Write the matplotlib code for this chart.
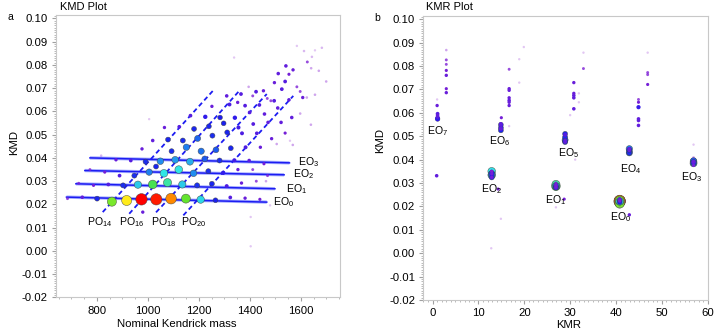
import numpy as np
import matplotlib
matplotlib.use("Agg")
import matplotlib.pyplot as plt
from matplotlib.colors import LinearSegmentedColormap
from matplotlib.ticker import MultipleLocator, FormatStrFormatter

plt.rcParams['font.family'] = ['Liberation Sans', 'DejaVu Sans']
plt.rcParams['mathtext.default'] = 'regular'

# ---- EO rows (nominal Kendrick mass, KMD, relative intensity) ----
eo0_mass = [685, 743, 801, 859, 917, 975, 1033, 1091, 1149, 1207, 1265, 1323, 1381, 1439, 1479]
eo0_kmd = [0.0225, 0.0231, 0.0225, 0.0212, 0.0217, 0.0222, 0.0222, 0.0225, 0.0225, 0.0221, 0.0218, 0.0230, 0.0227, 0.0222, 0.0196]
eo0_int = [0.02, 0.05, 0.14, 0.62, 0.76, 1.0, 0.97, 0.86, 0.6, 0.4, 0.13, 0.06, 0.04, 0.03, 0.005]

eo1_mass = [729, 787, 845, 903, 961, 1019, 1077, 1135, 1193, 1251, 1309, 1367, 1425]
eo1_kmd = [0.0291, 0.0282, 0.0286, 0.0282, 0.0285, 0.0286, 0.0294, 0.0286, 0.0282, 0.0289, 0.0279, 0.0292, 0.0300]
eo1_int = [0.02, 0.03, 0.06, 0.15, 0.38, 0.55, 0.48, 0.38, 0.16, 0.14, 0.07, 0.04, 0.02]

eo2_mass = [773, 831, 889, 947, 1005, 1063, 1121, 1179, 1237, 1295, 1353, 1411, 1469]
eo2_kmd = [0.0350, 0.0339, 0.0324, 0.0324, 0.0339, 0.0334, 0.0350, 0.0334, 0.0343, 0.0336, 0.0350, 0.0350, 0.0324]
eo2_int = [0.02, 0.03, 0.06, 0.15, 0.28, 0.42, 0.42, 0.3, 0.15, 0.1, 0.04, 0.02, 0.02]

eo3_mass = [817, 875, 933, 991, 1049, 1107, 1165, 1223, 1281, 1339, 1397, 1455]
eo3_kmd = [0.0410, 0.0392, 0.0389, 0.0384, 0.0386, 0.0392, 0.0384, 0.0396, 0.0389, 0.0390, 0.0389, 0.0375]
eo3_int = [0.008, 0.04, 0.06, 0.15, 0.3, 0.32, 0.34, 0.22, 0.15, 0.08, 0.05, 0.03]

eo4_mass = [977, 1093, 1151, 1209, 1267, 1325, 1383, 1441]
eo4_kmd = [0.0439, 0.0429, 0.0446, 0.0429, 0.0435, 0.0442, 0.0446, 0.0446]
eo4_int = [0.04, 0.15, 0.28, 0.26, 0.22, 0.14, 0.07, 0.04]

eo5_mass = [1019, 1079, 1137, 1195, 1253, 1311, 1369, 1427, 1485]
eo5_kmd = [0.0475, 0.0479, 0.0475, 0.0484, 0.0496, 0.0510, 0.0506, 0.0506, 0.0483]
eo5_int = [0.05, 0.14, 0.15, 0.24, 0.15, 0.14, 0.07, 0.06, 0.04]

eo6_mass = [1065, 1123, 1181, 1239, 1297, 1355, 1413, 1471]
eo6_kmd = [0.0531, 0.0534, 0.0525, 0.0536, 0.0549, 0.0531, 0.0546, 0.0553]
eo6_int = [0.04, 0.06, 0.14, 0.14, 0.13, 0.08, 0.06, 0.05]

eo7_mass = [1167, 1225, 1283, 1341, 1399, 1457]
eo7_kmd = [0.0582, 0.0577, 0.0574, 0.0573, 0.0596, 0.0589]
eo7_int = [0.06, 0.1, 0.12, 0.1, 0.06, 0.05]

# other peaks in the mass spectrum (higher EO, side series, noise)
other_mass = [1032, 980, 1403, 1403, 1463, 1251, 1320, 1352, 1381, 1437, 1495, 1509, 1309, 1365,
              1424, 1453, 1411, 1468, 1482, 1553, 1525, 1496, 1538, 1511, 1541, 1553, 1569, 1584,
              1597, 1607, 1623, 1655, 1625, 1640, 1670, 1699, 1584, 1612, 1643, 1655, 1682, 1338,
              1005, 1564, 1522, 1538, 1597, 1639, 1568, 1505, 1395, 1557]
other_kmd = [0.0363, 0.0167, 0.0146, 0.0020, 0.0300, 0.0622, 0.0630, 0.0639, 0.0625, 0.0628, 0.0646,
             0.0615, 0.0667, 0.0675, 0.0685, 0.0689, 0.0667, 0.0656, 0.0646, 0.0650, 0.0696, 0.0724,
             0.0729, 0.0763, 0.0796, 0.0760, 0.0779, 0.0706, 0.0686, 0.0660, 0.0660, 0.0672, 0.0813,
             0.0786, 0.0775, 0.0729, 0.0882, 0.0860, 0.0835, 0.0863, 0.0874, 0.0832, 0.0567, 0.0574,
             0.0553, 0.0507, 0.0591, 0.0543, 0.0456, 0.0460, 0.0706, 0.0474]
other_int = [0.14, 0.04, 0.005, 0.005, 0.01, 0.04, 0.07, 0.04, 0.06, 0.06, 0.06, 0.05, 0.05, 0.06,
             0.06, 0.04, 0.02, 0.02, 0.02, 0.05, 0.06, 0.04, 0.06, 0.05, 0.05, 0.03, 0.04, 0.02,
             0.02, 0.04, 0.01, 0.01, 0.02, 0.01, 0.01, 0.01, 0.005, 0.008, 0.008, 0.005, 0.008, 0.005,
             0.005, 0.05, 0.05, 0.03, 0.01, 0.01, 0.01, 0.01, 0.01, 0.005]

# fitted EO lines and PO lines (end points)
eo_line_mass = [(681, 1466), (718, 1498), (753, 1534), (773, 1555)]
eo_line_kmd = [(0.02315, 0.0210), (0.02889, 0.02675), (0.03459, 0.03275), (0.04003, 0.03789)]
po_line_mass = [(823, 1255), (927, 1361), (1032, 1466), (1139, 1570)]
po_line_kmd = [(0.0167, 0.0689), (0.0160, 0.0692), (0.0166, 0.0675), (0.0153, 0.0667)]
po_names = ['PO$_{14}$', 'PO$_{16}$', 'PO$_{18}$', 'PO$_{20}$']

# KMR position of each EO series
eo_kmr = [40.8, 26.9, 12.9, 56.9, 42.9, 28.9, 14.9, 1.1]

# remaining peaks in the KMR plot
kmr_other = [3.0, 3.0, 3.0, 3.0, 3.0, 3.0, 3.0, 1.0, 1.0, 0.9,
             16.7, 16.7, 16.7, 16.7, 16.7, 16.7, 16.7, 16.7, 15.0, 18.9, 18.9, 19.9,
             14.3, 14.9, 12.8, 28.7, 26.9, 42.9,
             30.8, 30.8, 30.8, 30.8, 30.8, 32.9, 32.9, 31.9, 31.9, 30.0,
             44.9, 44.9, 44.9, 44.9, 44.9, 44.9, 46.9, 46.9, 46.9, 46.9, 56.9, 31.1]
kmd_other = [0.0868, 0.0826, 0.0807, 0.0781, 0.0760, 0.0703, 0.0686, 0.0631, 0.0657, 0.0331,
             0.0786, 0.0703, 0.0696, 0.0664, 0.0653, 0.0645, 0.0631, 0.0543, 0.0579, 0.0729, 0.0829, 0.0881,
             0.0274, 0.0147, 0.0021, 0.0231, 0.0196, 0.0164,
             0.0729, 0.0683, 0.0674, 0.0664, 0.0617, 0.0857, 0.0789, 0.0683, 0.0645, 0.0590,
             0.0657, 0.0645, 0.0624, 0.0574, 0.0567, 0.0546, 0.0857, 0.0772, 0.0763, 0.0721, 0.0464, 0.0400]
int_other = [0.01, 0.02, 0.02, 0.03, 0.04, 0.03, 0.04, 0.04, 0.005, 0.05,
             0.02, 0.04, 0.04, 0.04, 0.05, 0.04, 0.04, 0.005, 0.03, 0.005, 0.005, 0.005,
             0.03, 0.005, 0.005, 0.03, 0.005, 0.04,
             0.04, 0.04, 0.05, 0.05, 0.05, 0.005, 0.02, 0.005, 0.005, 0.005,
             0.02, 0.03, 0.09, 0.05, 0.05, 0.05, 0.005, 0.02, 0.02, 0.03, 0.005, 0.005]

rows_mass = [eo0_mass, eo1_mass, eo2_mass, eo3_mass, eo4_mass, eo5_mass, eo6_mass, eo7_mass]
rows_kmd = [eo0_kmd, eo1_kmd, eo2_kmd, eo3_kmd, eo4_kmd, eo5_kmd, eo6_kmd, eo7_kmd]
rows_int = [eo0_int, eo1_int, eo2_int, eo3_int, eo4_int, eo5_int, eo6_int, eo7_int]

cmap = LinearSegmentedColormap.from_list('intensity', [
    (0.0, '#9020d0'), (0.12, '#1a1af0'), (0.28, '#1e80f0'), (0.42, '#30e6e6'),
    (0.58, '#4ee030'), (0.74, '#ffff20'), (0.86, '#ff8c00'), (1.0, '#ff0000')])


def draw_peaks(ax, x, y, inten):
    x, y, inten = np.asarray(x, float), np.asarray(y, float), np.asarray(inten, float)
    order = np.argsort(-inten)
    x, y, inten = x[order], y[order], inten[order]
    diam = 2.0 + 9.5 * inten ** 0.6
    sizes = (diam * 0.72) ** 2
    cols = cmap(inten)
    cols[:, 3] = np.clip(inten * 40, 0.25, 1)
    edges = [(0.25, 0.25, 0.25, 0.8) if v > 0.1 else (0, 0, 0, 0) for v in inten]
    ax.scatter(x, y, s=sizes, c=cols, edgecolors=edges, linewidths=0.4, zorder=3)


def style_axes(ax):
    for sp in ax.spines.values():
        sp.set_color('#c8c8c8')
        sp.set_linewidth(0.8)
    ax.set_ylim(-0.02, 0.1015)
    ax.yaxis.set_major_locator(MultipleLocator(0.01))
    ax.yaxis.set_minor_locator(MultipleLocator(0.001))
    ax.yaxis.set_major_formatter(FormatStrFormatter('%.2f'))
    ax.tick_params(which='major', length=3, color='#a0a0a0', labelsize=8.2, pad=3)
    ax.tick_params(which='minor', length=1.6, color='#b0b0b0')
    ax.set_ylabel('KMD', fontsize=8.2)


fig = plt.figure(figsize=(7.2, 3.35), dpi=100)
ax1 = fig.add_axes([0.0778, 0.1122, 0.3944, 0.843])
ax2 = fig.add_axes([0.588, 0.1045, 0.395, 0.8487])

# ---- KMD plot ----
for (m0, m1), (k0, k1) in zip(eo_line_mass, eo_line_kmd):
    ax1.plot([m0, m1], [k0, k1], color='#a8b0ff', lw=2.4, solid_capstyle='butt', zorder=1)
    ax1.plot([m0, m1], [k0, k1], color='#1c1cf2', lw=1.1, zorder=2)
for (m0, m1), (k0, k1) in zip(po_line_mass, po_line_kmd):
    ax1.plot([m0, m1], [k0, k1], color='#1c1cf2', lw=1.3, dashes=(2.6, 1.8), zorder=2)

all_mass = np.concatenate([np.concatenate(rows_mass), other_mass])
all_kmd = np.concatenate([np.concatenate(rows_kmd), other_kmd])
all_int = np.concatenate([np.concatenate(rows_int), other_int])
draw_peaks(ax1, all_mass, all_kmd, all_int)

for i, (mx, ky) in enumerate(zip([1491, 1542, 1569, 1589], [0.0212, 0.0267, 0.0330, 0.0383])):
    ax1.text(mx, ky, 'EO$_{%d}$' % i, fontsize=7.6, ha='left', va='center')
for name, mx in zip(po_names, [812, 936, 1060, 1178]):
    ax1.text(mx, 0.0124, name, fontsize=7.6, ha='center', va='center')

style_axes(ax1)
ax1.set_xlim(640, 1753)
ax1.xaxis.set_major_locator(MultipleLocator(200))
ax1.xaxis.set_minor_locator(MultipleLocator(50))
ax1.set_xlabel('Nominal Kendrick mass', fontsize=8.2)
ax1.xaxis.set_label_coords(0.425, -0.075)
ax1.yaxis.set_label_coords(-0.13, 0.55)

# ---- KMR plot ----
kmr_x = np.concatenate([[eo_kmr[i]] * len(rows_kmd[i]) for i in range(len(eo_kmr))] + [kmr_other])
kmr_y = np.concatenate([np.concatenate(rows_kmd), kmd_other])
kmr_i = np.concatenate([np.concatenate(rows_int), int_other])
draw_peaks(ax2, kmr_x, kmr_y, kmr_i)

label_xy = [(40.9, 0.0154), (26.9, 0.0228), (12.8, 0.0274), (56.5, 0.0326),
            (43.2, 0.0361), (29.6, 0.0426), (14.7, 0.0478), (1.1, 0.0521)]
for i, (lx, ly) in enumerate(label_xy):
    ax2.text(lx, ly, 'EO$_{%d}$' % i, fontsize=7.6, ha='center', va='center')

style_axes(ax2)
ax2.set_xlim(-2, 60)
ax2.xaxis.set_major_locator(MultipleLocator(10))
ax2.xaxis.set_minor_locator(MultipleLocator(1))
ax2.set_xlabel('KMR', fontsize=8.2)
ax2.xaxis.set_label_coords(0.51, -0.07)
ax2.yaxis.set_label_coords(-0.135, 0.56)

fig.text(60 / 720, 1 - 7 / 335, 'KMD Plot', fontsize=8, ha='left', va='center')
fig.text(426 / 720, 1 - 7 / 335, 'KMR Plot', fontsize=8, ha='left', va='center')
fig.text(8 / 720, 1 - 17 / 335, 'a', fontsize=7.5, ha='left', va='center')
fig.text(374 / 720, 1 - 18 / 335, 'b', fontsize=7.5, ha='left', va='center')

fig.savefig('out.png', dpi=100)
